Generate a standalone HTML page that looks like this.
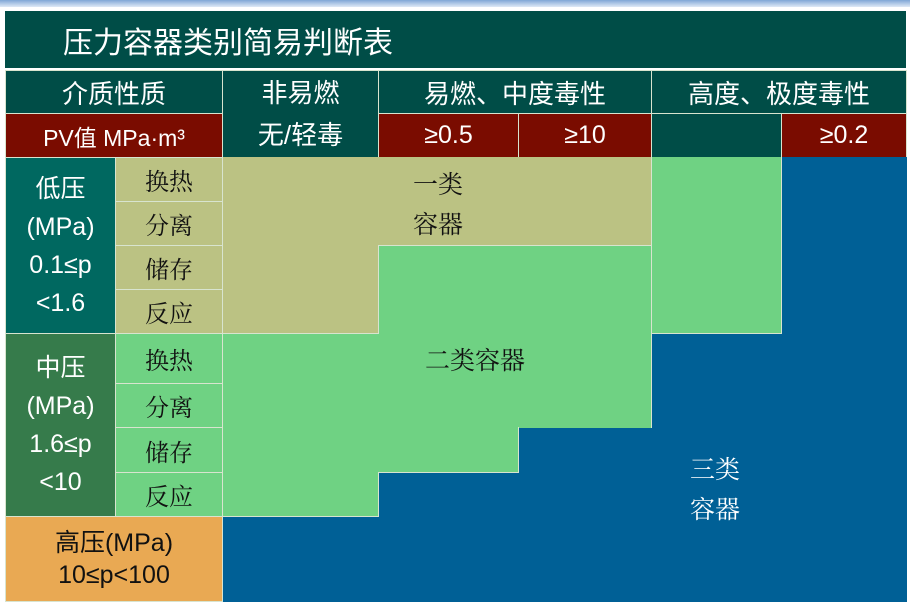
<!DOCTYPE html>
<html><head><meta charset="utf-8"><style>
body{margin:0;width:910px;height:602px;background:#fff;position:relative;overflow:hidden;font-family:"Liberation Sans","Noto Sans CJK SC",sans-serif}
.b{position:absolute;box-sizing:border-box;display:flex;align-items:center;justify-content:center;text-align:center}
.t{background:#004d47;color:#fff;font-size:26px}
.r{background:#7a0c00;color:#fff;font-size:25px}
.s{font-family:"Noto Serif CJK SC","Liberation Serif",serif;color:#111;font-size:24px}
.ln{border:1px solid #d8e4cf}
</style></head><body>
<div class="b" style="left:0;top:0;width:910px;height:7px;background:linear-gradient(#7fa6d6,#dfe9f6)"></div>
<div class="b t" style="left:5px;top:11px;width:901px;height:57px;justify-content:flex-start;padding-left:58px;font-size:30px">压力容器类别简易判断表</div>
<div class="b t ln" style="left:5px;top:70px;width:218px;height:44px">介质性质</div>
<div class="b r ln" style="left:5px;top:113px;width:218px;height:45px;font-size:23px">PV值 MPa·m³</div>
<div class="b t ln" style="left:222px;top:70px;width:157px;height:88px;line-height:42px">非易燃<br>无/轻毒</div>
<div class="b t ln" style="left:378px;top:70px;width:274px;height:44px">易燃、中度毒性</div>
<div class="b r ln" style="left:378px;top:113px;width:141px;height:45px">≥0.5</div>
<div class="b r ln" style="left:518px;top:113px;width:134px;height:45px">≥10</div>
<div class="b t ln" style="left:651px;top:70px;width:256px;height:44px">高度、极度毒性</div>
<div class="b t ln" style="left:651px;top:113px;width:131px;height:45px"></div>
<div class="b r ln" style="left:781px;top:113px;width:126px;height:45px">≥0.2</div>

<div class="b" style="left:222px;top:157px;width:685px;height:445px;background:#006096"></div>
<div class="b" style="left:651px;top:157px;width:131px;height:177px;background:#6fd283"></div>
<div class="b" style="left:222px;top:245px;width:430px;height:183px;background:#6fd283;border-right:1px solid #d8e4cf"></div>
<div class="b" style="left:222px;top:427px;width:297px;height:46px;background:#6fd283;border-right:1px solid #d8e4cf;border-bottom:1px solid #d8e4cf"></div>
<div class="b" style="left:222px;top:472px;width:157px;height:45px;background:#6fd283;border-right:1px solid #d8e4cf;border-bottom:1px solid #d8e4cf"></div>
<div class="b" style="left:222px;top:157px;width:430px;height:89px;background:#bbc283;border-right:1px solid #d8e4cf;border-bottom:1px solid #d8e4cf"></div>
<div class="b" style="left:222px;top:245px;width:157px;height:89px;background:#bbc283;border-right:1px solid #d8e4cf;border-bottom:1px solid #d8e4cf"></div>
<div class="b" style="left:651px;top:333px;width:131px;height:1px;background:#d8e4cf"></div>
<div class="b" style="left:781px;top:157px;width:1px;height:177px;background:#d8e4cf"></div>

<div class="b s" style="left:378px;top:163px;width:120px;height:80px;line-height:40px;font-size:25px">一类<br>容器</div>
<div class="b s" style="left:400px;top:338px;width:150px;height:42px;font-size:25px">二类容器</div>
<div class="b s" style="left:655px;top:448px;width:120px;height:80px;line-height:40px;color:#fff;font-size:25px">三类<br>容器</div>

<div class="b ln" style="left:5px;top:157px;width:111px;height:177px;background:#006860;color:#fff;font-size:25px;line-height:38px">低压<br>(MPa)<br>0.1≤p<br>&lt;1.6</div>
<div class="b ln" style="left:5px;top:333px;width:111px;height:184px;background:#367b4b;color:#fff;font-size:25px;line-height:38px">中压<br>(MPa)<br>1.6≤p<br>&lt;10</div>
<div class="b ln" style="left:5px;top:516px;width:218px;height:86px;background:#e9a953;color:#111;font-size:25px;line-height:32px">高压(MPa)<br>10≤p&lt;100</div>

<div class="b s ln" style="left:115px;top:157px;width:108px;height:45px;background:#bbc283">换热</div>
<div class="b s ln" style="left:115px;top:201px;width:108px;height:45px;background:#bbc283">分离</div>
<div class="b s ln" style="left:115px;top:245px;width:108px;height:45px;background:#bbc283">储存</div>
<div class="b s ln" style="left:115px;top:289px;width:108px;height:45px;background:#bbc283">反应</div>
<div class="b s ln" style="left:115px;top:333px;width:108px;height:51px;background:#6fd283">换热</div>
<div class="b s ln" style="left:115px;top:383px;width:108px;height:45px;background:#6fd283">分离</div>
<div class="b s ln" style="left:115px;top:427px;width:108px;height:46px;background:#6fd283">储存</div>
<div class="b s ln" style="left:115px;top:472px;width:108px;height:45px;background:#6fd283">反应</div>
</body></html>
